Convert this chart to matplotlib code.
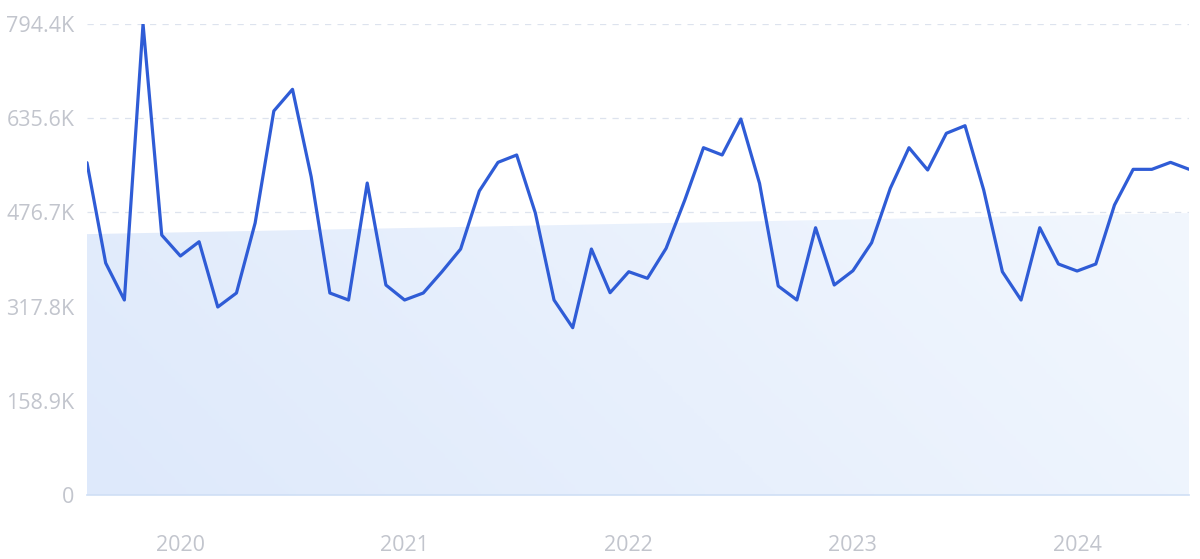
import numpy as np
import pandas as pd
import matplotlib
matplotlib.use("Agg")
import matplotlib.pyplot as plt
from matplotlib.patches import Polygon
from matplotlib.colors import LinearSegmentedColormap


# monthly values in thousands, Aug 2019 .. Jul 2024
months = pd.date_range("2019-08-01", "2024-07-01", freq="MS")
values = [
    560.5, 391.3, 328.9, 794.4, 438.5, 403.1, 427.2, 317.1, 340.7, 458.8,
    647.7, 684.3, 536.9, 340.7, 328.9, 526.2, 354.2, 328.9, 340.7, 376.6,
    414.9, 512.7, 561.1, 573.5, 475.6, 328.9, 282.2, 414.9, 341.2, 376.6,
    365.5, 416.1, 497.6, 585.8, 573.5, 634.2, 525.7, 352.5, 328.9, 450.8,
    354.2, 378.3, 425.5, 517.3, 585.8, 548.2, 610.1, 622.9, 514.4, 376.6,
    328.9, 450.8, 389.6, 377.8, 389.6, 489.1, 549.3, 549.3, 561.1, 549.3,
]
trend_start = 440.0
trend_end = 475.6

y_ticks = [0, 158.9, 317.8, 476.7, 635.6, 794.4]
y_labels = ["0", "158.9K", "317.8K", "476.7K", "635.6K", "794.4K"]
year_labels = ["2020", "2021", "2022", "2023", "2024"]


def main():
    plt.rcParams["font.family"] = ["Open Sans", "DejaVu Sans"]

    fig = plt.figure(figsize=(12, 5.59), dpi=100)
    ax = fig.add_axes([0.0725, 0.1145, 0.9185, 0.8425])

    x = np.arange(len(values))
    n = len(values) - 1

    # shaded trend area with a soft gradient
    trend = Polygon(
        [(0, 0), (0, trend_start), (n, trend_end), (n, 0)],
        closed=True, facecolor="none", edgecolor="none"
    )
    ax.add_patch(trend)
    gx, gy = np.meshgrid(np.linspace(0, 1, 300), np.linspace(0, 1, 100))
    grad = 0.8 * gx + 0.2 * (1 - gy)
    cmap = LinearSegmentedColormap.from_list("fill", ["#dee9fb", "#f2f7fe"])
    img = ax.imshow(
        grad, cmap=cmap, aspect="auto", origin="upper",
        extent=[0, n, 0, trend_end], zorder=1
    )
    img.set_clip_path(trend)

    ax.plot(x, values, color="#2f5cd6", linewidth=2.3,
            solid_joinstyle="round", solid_capstyle="round", zorder=3)

    ax.set_xlim(0, n)
    ax.set_ylim(0, 794.4)

    ax.set_yticks(y_ticks)
    ax.set_yticklabels(y_labels)
    ax.yaxis.grid(True, linestyle=(0, (5, 5)), color="#dde3ee", linewidth=0.9)
    ax.set_axisbelow(True)

    year_pos = [i for i, m in enumerate(months) if m.month == 1]
    ax.set_xticks(year_pos)
    ax.set_xticklabels(year_labels)

    ax.tick_params(axis="both", length=0, labelcolor="#c2c5cd", labelsize=15.5)
    ax.tick_params(axis="x", pad=29)
    ax.tick_params(axis="y", pad=9)

    for side in ["top", "right", "left"]:
        ax.spines[side].set_visible(False)
    ax.spines["bottom"].set_color("#cfdff5")
    ax.spines["bottom"].set_linewidth(1.2)
    ax.spines["bottom"].set_zorder(2)

    fig.savefig("out.png", dpi=100)


if __name__ == "__main__":
    main()
